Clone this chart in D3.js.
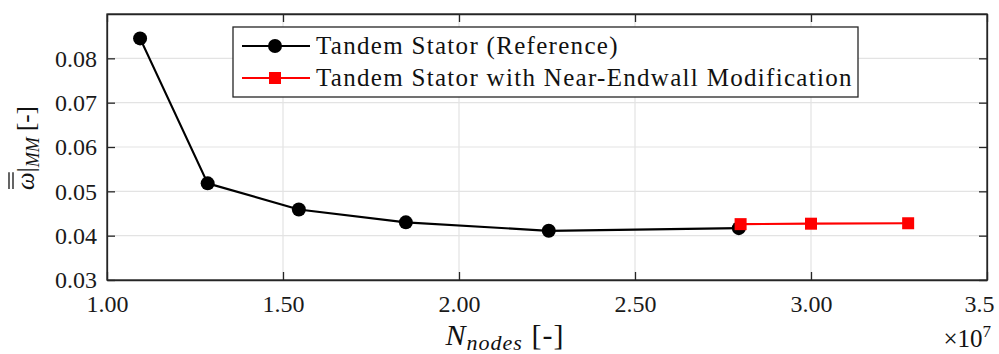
<!DOCTYPE html>
<html>
<head>
<meta charset="utf-8">
<script src="https://cdn.jsdelivr.net/npm/d3@7"></script>
<style>
  body { margin: 0; background: #fff; }
  svg { display: block; font-family: "Liberation Serif", "DejaVu Serif", serif; }
  svg text { font-family: "Liberation Serif", "DejaVu Serif", serif; }
</style>
</head>
<body>
<svg width="999" height="354"></svg>
<script>
// tick values / labels
const xTicks = [1.0e7, 1.5e7, 2.0e7, 2.5e7, 3.0e7, 3.5e7];
const xTickLabels = ["1.00", "1.50", "2.00", "2.50", "3.00", "3.5"];
const yTicks = [0.03, 0.04, 0.05, 0.06, 0.07, 0.08];
const yTickLabels = ["0.03", "0.04", "0.05", "0.06", "0.07", "0.08"];

// series
const refNodes = [1.094e7, 1.286e7, 1.545e7, 1.849e7, 2.255e7, 2.795e7];
const refOmega = [0.0845, 0.0518, 0.0459, 0.0430, 0.0411, 0.0417];
const modNodes = [2.80e7, 3.00e7, 3.276e7];
const modOmega = [0.0426, 0.0427, 0.0428];
const seriesNames = ["Tandem Stator (Reference)", "Tandem Stator with Near-Endwall Modification"];

const svg = d3.select("svg"),
    margin = {top: 14, right: 12, bottom: 74, left: 107},
    width = 999 - margin.left - margin.right,
    height = 354 - margin.top - margin.bottom,
    g = svg.append("g").attr("transform", "translate(" + margin.left + "," + margin.top + ")");

const x = d3.scaleLinear().domain([1.0e7, 3.5e7]).range([0, width]);
const y = d3.scaleLinear().domain([0.03, 0.09]).range([height, 0]);

const axisColor = "#262626", gridColor = "#e3e3e3";

// grid
g.append("g").selectAll("line").data(xTicks.slice(1, -1)).join("line")
    .attr("x1", d => x(d)).attr("x2", d => x(d))
    .attr("y1", 0).attr("y2", height)
    .attr("stroke", gridColor).attr("stroke-width", 1.2);
g.append("g").selectAll("line").data(yTicks.slice(1)).join("line")
    .attr("x1", 0).attr("x2", width)
    .attr("y1", d => y(d)).attr("y2", d => y(d))
    .attr("stroke", gridColor).attr("stroke-width", 1.2);

// axes (ticks inward, box all round)
const fmtX = (d, i) => xTickLabels[i];
const fmtY = (d, i) => yTickLabels[i];

g.append("g")
    .attr("transform", "translate(0," + height + ")")
    .call(d3.axisBottom(x).tickValues(xTicks).tickFormat(fmtX).tickSizeInner(-8).tickSizeOuter(0).tickPadding(15));
g.append("g")
    .call(d3.axisLeft(y).tickValues(yTicks).tickFormat(fmtY).tickSizeInner(-8).tickSizeOuter(0).tickPadding(10));
g.append("g")
    .call(d3.axisTop(x).tickValues(xTicks).tickFormat("").tickSizeInner(-8).tickSizeOuter(0));
g.append("g")
    .attr("transform", "translate(" + width + ",0)")
    .call(d3.axisRight(y).tickValues(yTicks).tickFormat("").tickSizeInner(-8).tickSizeOuter(0));

g.selectAll("g").attr("font-family", null).attr("font-size", null);
g.selectAll(".domain").attr("stroke", axisColor).attr("stroke-width", 1.3);
g.selectAll(".tick line").attr("stroke", axisColor).attr("stroke-width", 1.3);
g.selectAll(".tick text").attr("fill", "#1a1a1a").attr("font-size", 24);
// keep the last x label inside the frame
g.selectAll(".tick text").filter(function() { return this.textContent === "3.5"; })
    .attr("text-anchor", "end").attr("x", 7);
g.append("rect").attr("width", width).attr("height", height)
    .attr("fill", "none").attr("stroke", axisColor).attr("stroke-width", 1.3);

// lines
const line = d3.line().x(d => x(d[0])).y(d => y(d[1]));
const refData = refNodes.map((n, i) => [n, refOmega[i]]);
const modData = modNodes.map((n, i) => [n, modOmega[i]]);

g.append("path").datum(refData)
    .attr("d", line).attr("fill", "none").attr("stroke", "#000").attr("stroke-width", 2.2)
    .attr("stroke-linejoin", "round");
g.selectAll(".ref").data(refData).join("circle")
    .attr("class", "ref")
    .attr("cx", d => x(d[0])).attr("cy", d => y(d[1])).attr("r", 7).attr("fill", "#000");

g.append("path").datum(modData)
    .attr("d", line).attr("fill", "none").attr("stroke", "#ff0000").attr("stroke-width", 2.2);
g.selectAll(".mod").data(modData).join("rect")
    .attr("class", "mod")
    .attr("x", d => x(d[0]) - 6).attr("y", d => y(d[1]) - 6)
    .attr("width", 12).attr("height", 12).attr("fill", "#ff0000");

// legend
const legend = svg.append("g").attr("transform", "translate(233,27)");
legend.append("rect").attr("width", 625).attr("height", 70)
    .attr("fill", "#fff").attr("stroke", axisColor).attr("stroke-width", 1.3);
const rows = legend.selectAll(".row").data(seriesNames).join("g")
    .attr("transform", (d, i) => "translate(0," + (19 + i * 32) + ")");
rows.append("line").attr("x1", 9).attr("x2", 77).attr("y1", 0).attr("y2", 0)
    .attr("stroke", (d, i) => i ? "#ff0000" : "#000").attr("stroke-width", 2.2);
rows.filter((d, i) => i === 0).append("circle").attr("cx", 42).attr("cy", 0).attr("r", 7).attr("fill", "#000");
rows.filter((d, i) => i === 1).append("rect").attr("x", 36).attr("y", -6).attr("width", 12).attr("height", 12).attr("fill", "#ff0000");
rows.append("text").attr("x", 83).attr("y", 8)
    .attr("font-size", 25).style("letter-spacing", "1.3px").attr("fill", "#111").text(d => d);

// x axis title
const xt = svg.append("text").attr("x", 505).attr("y", 345)
    .attr("text-anchor", "middle").attr("font-size", 30).style("letter-spacing", "1px").attr("fill", "#111");
xt.append("tspan").style("font-style", "italic").text("N");
xt.append("tspan").style("font-style", "italic").attr("font-size", 22).attr("dy", 5).text("nodes");
xt.append("tspan").attr("dy", -5).text(" [-]");

// exponent
const ex = svg.append("text").attr("x", 991).attr("y", 347)
    .attr("text-anchor", "end").attr("font-size", 25).attr("fill", "#111");
ex.append("tspan").text("\u00d710");
ex.append("tspan").attr("font-size", 17).attr("dy", -10).text("7");

// y axis title
const yg = svg.append("g").attr("transform", "translate(34,148) rotate(-90)");
const yt = yg.append("text").attr("text-anchor", "middle").attr("font-size", 25).attr("fill", "#111");
yt.append("tspan").style("font-style", "italic").text("\u03c9");
yt.append("tspan").text("|");
yt.append("tspan").style("font-style", "italic").attr("font-size", 18).attr("dy", 5).text("MM");
yt.append("tspan").attr("dy", -5).text(" [-]");
const om = yt.node().getExtentOfChar(0);
[0, 4].forEach(off => {
  yg.append("line")
    .attr("x1", om.x + 1).attr("x2", om.x + om.width)
    .attr("y1", om.y + 1 - off).attr("y2", om.y + 1 - off)
    .attr("stroke", "#111").attr("stroke-width", 1.3);
});
</script>
</body>
</html>
